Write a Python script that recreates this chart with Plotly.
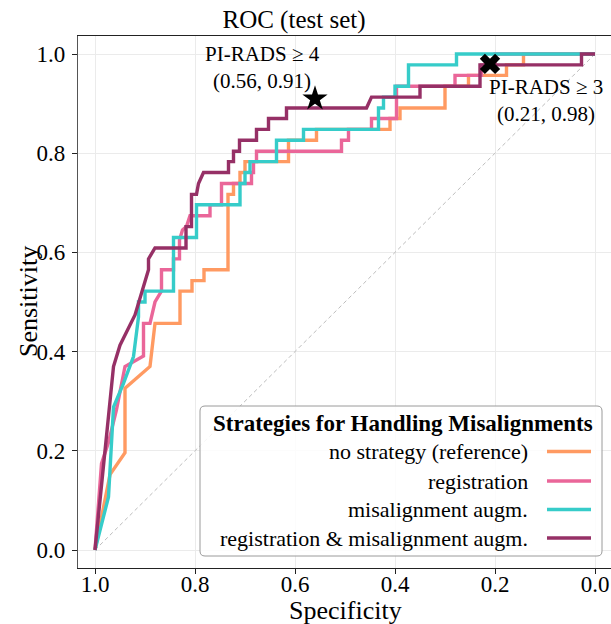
import plotly.graph_objects as go

# ---------------- data ----------------
series_names = [
    "no strategy (reference)",
    "registration",
    "misalignment augm.",
    "registration & misalignment augm.",
]
series_colors = ["#FF9A62", "#EA6699", "#36CCC9", "#963066"]

spec_none = [1.0, 0.97, 0.94, 0.94, 0.89, 0.88, 0.83, 0.83, 0.806, 0.806, 0.782, 0.782,
             0.734, 0.734, 0.723, 0.723, 0.71, 0.71, 0.70, 0.70, 0.613, 0.613, 0.557,
             0.557, 0.41, 0.41, 0.39, 0.39, 0.30, 0.30, 0.253, 0.253, 0.177, 0.177,
             0.143, 0.143, 0.0]
sens_none = [0.0, 0.152, 0.196, 0.326, 0.370, 0.457, 0.457, 0.522, 0.522, 0.543, 0.543, 0.565,
             0.565, 0.717, 0.717, 0.739, 0.739, 0.761, 0.761, 0.783, 0.783, 0.826, 0.826,
             0.848, 0.848, 0.870, 0.870, 0.891, 0.891, 0.935, 0.935, 0.957, 0.957, 0.978,
             0.978, 1.0, 1.0]

spec_reg = [1.0, 0.987, 0.973, 0.957, 0.94, 0.903, 0.903, 0.89, 0.88, 0.867, 0.867, 0.843,
            0.843, 0.831, 0.831, 0.825, 0.817, 0.81, 0.77, 0.77, 0.747, 0.747, 0.687, 0.687,
            0.683, 0.683, 0.677, 0.677, 0.507, 0.507, 0.493, 0.493, 0.447, 0.447, 0.397,
            0.397, 0.28, 0.28, 0.227, 0.227, 0.20, 0.20, 0.0]
sens_reg = [0.0, 0.174, 0.217, 0.283, 0.370, 0.391, 0.457, 0.457, 0.50, 0.522, 0.565, 0.565,
            0.587, 0.587, 0.625, 0.645, 0.652, 0.674, 0.674, 0.696, 0.696, 0.739, 0.739, 0.761,
            0.761, 0.783, 0.783, 0.804, 0.804, 0.826, 0.826, 0.848, 0.848, 0.870, 0.870,
            0.935, 0.935, 0.957, 0.957, 0.978, 0.978, 1.0, 1.0]

spec_aug = [1.0, 0.973, 0.963, 0.943, 0.923, 0.913, 0.913, 0.90, 0.90, 0.843, 0.843, 0.797,
            0.797, 0.71, 0.71, 0.70, 0.70, 0.69, 0.69, 0.637, 0.637, 0.583, 0.583, 0.433,
            0.433, 0.423, 0.423, 0.40, 0.40, 0.373, 0.373, 0.277, 0.277, 0.0]
sens_aug = [0.0, 0.107, 0.288, 0.336, 0.39, 0.47, 0.50, 0.50, 0.522, 0.522, 0.630, 0.630,
            0.696, 0.696, 0.739, 0.739, 0.761, 0.761, 0.783, 0.783, 0.826, 0.826, 0.848, 0.848,
            0.891, 0.891, 0.913, 0.913, 0.935, 0.935, 0.978, 0.978, 1.0, 1.0]

spec_both = [1.0, 0.963, 0.950, 0.920, 0.893, 0.893, 0.880, 0.818, 0.818, 0.807, 0.807, 0.797,
             0.793, 0.783, 0.733, 0.733, 0.723, 0.723, 0.711, 0.711, 0.677, 0.677, 0.653,
             0.653, 0.617, 0.617, 0.457, 0.447, 0.350, 0.350, 0.230, 0.230, 0.027, 0.027, 0.0]
sens_both = [0.0, 0.370, 0.413, 0.474, 0.565, 0.587, 0.609, 0.609, 0.652, 0.652, 0.717, 0.717,
             0.739, 0.761, 0.761, 0.783, 0.783, 0.804, 0.804, 0.826, 0.826, 0.848, 0.848,
             0.870, 0.870, 0.891, 0.891, 0.913, 0.913, 0.935, 0.935, 0.978, 0.978, 1.0, 1.0]

series_spec = [spec_none, spec_reg, spec_aug, spec_both]
series_sens = [sens_none, sens_reg, sens_aug, sens_both]

pirads_labels = ["PI-RADS \u2265 4", "PI-RADS \u2265 3"]
pirads_spec = [0.56, 0.21]
pirads_sens = [0.91, 0.98]

x_ticks = [1.0, 0.8, 0.6, 0.4, 0.2, 0.0]
y_ticks = [0.0, 0.2, 0.4, 0.6, 0.8, 1.0]

title_text = "ROC (test set)"
x_title = "Specificity"
y_title = "Sensitivity"
legend_title = "Strategies for Handling Misalignments"

# ---------------- layout geometry ----------------
W, H = 611, 624
ML, MR, MT, MB = 78, 0, 36, 56
PW, PH = W - ML - MR, H - MT - MB
FONT = "Liberation Serif"


def px(x):
    return (x - ML) / PW


def py(y):
    return (H - MB - y) / PH


def txt(x, y, text, size, xanchor="center", angle=0):
    fig.add_annotation(x=px(x), y=py(y), xref="paper", yref="paper", text=text,
                       showarrow=False, textangle=angle,
                       font=dict(family=FONT, size=size, color="black"),
                       xanchor=xanchor, yanchor="middle")


fig = go.Figure()

# chance diagonal
fig.add_trace(go.Scatter(x=[1, 0], y=[0, 1], mode="lines",
                         line=dict(color="#bdbdbd", width=1, dash="4px,3px"),
                         hoverinfo="skip", showlegend=False))

for name, sx, sy, col in zip(series_names, series_spec, series_sens, series_colors):
    fig.add_trace(go.Scatter(x=sx, y=sy, mode="lines", name=name,
                             line=dict(color=col, width=3.4), showlegend=False))

fig.add_trace(go.Scatter(x=[pirads_spec[0]], y=[pirads_sens[0]], mode="markers",
                         marker=dict(symbol="star", size=19, color="black",
                                     line=dict(width=0)), showlegend=False))
fig.add_trace(go.Scatter(x=[pirads_spec[1]], y=[pirads_sens[1]], mode="markers",
                         marker=dict(symbol="x", size=18, color="black",
                                     line=dict(width=0)), showlegend=False))

# PI-RADS annotations (two lines each)
txt(262, 67.5, f"{pirads_labels[0]}<br>({pirads_spec[0]:.2f}, {pirads_sens[0]:.2f})", 21)
txt(546, 100.5, f"{pirads_labels[1]}<br>({pirads_spec[1]:.2f}, {pirads_sens[1]:.2f})", 21)

# axis titles
txt(345, 610, x_title, 26)
txt(28, 302, y_title, 26, angle=-90)

# manual legend (text left of the line sample)
lx0, lx1, ly0, ly1, rad = 200, 602, 406, 556, 5
rx, ry = rad / PW, rad / PH
X0, X1, Y0, Y1 = px(lx0), px(lx1), py(ly1), py(ly0)
path = (f"M {X0 + rx},{Y0} L {X1 - rx},{Y0} Q {X1},{Y0} {X1},{Y0 + ry} "
        f"L {X1},{Y1 - ry} Q {X1},{Y1} {X1 - rx},{Y1} L {X0 + rx},{Y1} "
        f"Q {X0},{Y1} {X0},{Y1 - ry} L {X0},{Y0 + ry} Q {X0},{Y0} {X0 + rx},{Y0} Z")
fig.add_shape(type="path", path=path, xref="paper", yref="paper",
              fillcolor="rgba(255,255,255,0.85)", line=dict(color="#9a9a9a", width=1))
txt(403, 423, f"<b>{legend_title}</b>", 23)
entry_y = [451.5, 481, 509.5, 538]
for name, col, ey in zip(series_names, series_colors, entry_y):
    txt(530, ey, name, 22, xanchor="right")
    fig.add_shape(type="line", xref="paper", yref="paper",
                  x0=px(547), x1=px(591), y0=py(ey), y1=py(ey),
                  line=dict(color=col, width=3.4))

fig.update_layout(
    width=W, height=H,
    margin=dict(l=ML, r=MR, t=MT, b=MB, pad=0, autoexpand=False),
    paper_bgcolor="white", plot_bgcolor="white",
    font=dict(family=FONT, color="black"),
    title=dict(text=title_text, x=294 / W, xanchor="center", xref="container",
               y=1 - 19 / H, yanchor="middle", yref="container",
               font=dict(family=FONT, size=25, color="black")),
    showlegend=False,
)
fig.update_xaxes(range=[1 + 17 / 500, 1 + 17 / 500 - PW / 500], tickvals=x_ticks,
                 ticktext=[f"{v:.1f}" for v in x_ticks], automargin=False,
                 showgrid=True, gridcolor="#ebebeb", gridwidth=1, zeroline=False,
                 showline=True, linecolor="#222", linewidth=1.2, mirror=True,
                 ticks="outside", ticklen=5, tickcolor="#222", ticklabelstandoff=-10,
                 tickfont=dict(family=FONT, size=23, color="black"))
fig.update_yaxes(range=[-18 / 496, -18 / 496 + PH / 496], tickvals=y_ticks,
                 ticktext=[f"{v:.1f}" for v in y_ticks], automargin=False,
                 showgrid=True, gridcolor="#ebebeb", gridwidth=1, zeroline=False,
                 showline=True, linecolor="#555", linewidth=1.2, mirror=False,
                 ticks="outside", ticklen=5, tickcolor="#222", ticklabelstandoff=2,
                 tickfont=dict(family=FONT, size=23, color="black"))

fig.write_html("out.html")
